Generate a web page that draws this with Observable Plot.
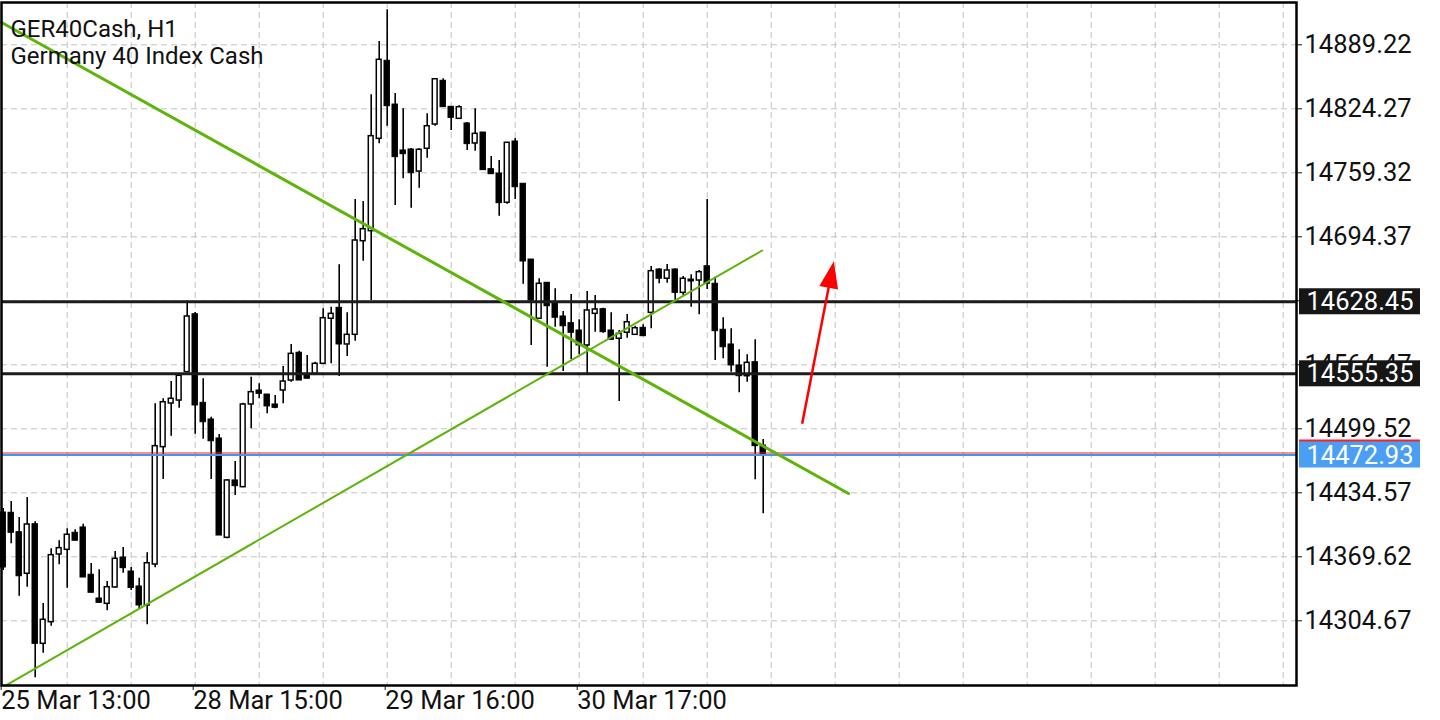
<!DOCTYPE html>
<html><head><meta charset="utf-8">
<script src="https://cdn.jsdelivr.net/npm/d3@7"></script>
<script src="https://cdn.jsdelivr.net/npm/@observablehq/plot@0.6"></script>
<style>
html,body{margin:0;padding:0;background:#fff;}
svg{display:block;}
</style></head><body><div id="chart"></div>
<script>
// H1 bars, index 0 = 25 Mar 13:00
const opens = [14414.6,14414.3,14394.6,14352.4,14402.7,14281.3,14303.3,14372.0,14376.7,14394.0,
14399.4,14351.4,14327.3,14321.9,14338.5,14368.9,14354.7,14339.5,14320.2,14361.8,
14480.9,14525.2,14528.2,14557.0,14615.8,14525.9,14509.0,14489.7,14388.9,14447.1,
14440.3,14524.2,14538.4,14534.3,14524.2,14538.4,14548.5,14576.7,14553.6,14555.3,
14565.5,14611.2,14622.3,14585.1,14594.9,14689.9,14700.1,14793.8,14873.0,14828.6,
14782.0,14783.0,14760.6,14783.7,14808.3,14852.7,14826.3,14814.1,14809.4,14789.1,
14800.2,14763.0,14758.6,14728.9,14791.1,14748.2,14671.3,14611.2,14647.7,14627.0,
14613.5,14606.7,14599.3,14584.1,14616.2,14620.9,14599.3,14590.9,14597.0,14594.9,
14602.0,14617.2,14661.2,14651.8,14661.2,14637.5,14651.0,14650.0,14664.5,14646.7,
14600.0,14585.1,14563.8,14552.9,14567.1,14482.6];
const highs = [14418.6,14425.7,14409.5,14429.8,14405.1,14322.2,14377.7,14385.9,14398.0,14397.0,
14402.7,14362.8,14356.4,14344.6,14375.0,14379.1,14358.8,14347.9,14373.7,14524.9,
14530.0,14547.5,14555.3,14629.0,14617.6,14550.3,14511.3,14493.7,14448.1,14466.3,
14525.5,14551.9,14545.2,14534.3,14533.3,14562.8,14585.1,14578.3,14573.9,14567.1,
14621.3,14622.9,14666.0,14617.2,14732.2,14730.2,14838.5,14892.6,14924.7,14839.8,
14824.3,14784.0,14783.7,14819.2,14854.3,14854.7,14826.3,14827.3,14810.4,14824.3,
14800.2,14775.9,14771.8,14789.8,14794.1,14748.2,14671.3,14651.8,14647.7,14641.6,
14618.6,14635.8,14610.1,14638.9,14634.8,14621.9,14617.2,14599.3,14615.5,14603.6,
14605.1,14664.2,14661.9,14666.3,14661.9,14654.1,14655.8,14660.2,14732.2,14653.4,
14612.2,14601.0,14579.7,14574.6,14589.8,14488.7];
const lows = [14355.7,14382.8,14329.6,14338.8,14246.8,14271.8,14299.2,14361.5,14337.8,14385.9,
14348.6,14333.1,14322.9,14314.8,14337.8,14353.0,14335.4,14316.9,14300.6,14358.5,
14448.1,14492.0,14520.4,14557.0,14494.0,14489.0,14448.1,14391.2,14387.9,14431.8,
14439.7,14499.5,14530.0,14514.7,14519.8,14524.9,14546.8,14548.5,14550.3,14553.6,
14565.5,14565.5,14552.6,14572.9,14588.4,14669.6,14629.7,14788.8,14806.6,14726.1,
14753.2,14723.4,14743.7,14774.1,14806.6,14825.9,14802.3,14814.1,14782.0,14781.2,
14762.0,14757.9,14715.3,14727.5,14732.2,14646.3,14584.1,14611.2,14562.0,14602.6,
14557.7,14569.9,14574.6,14554.3,14597.6,14596.5,14589.8,14527.2,14591.5,14594.9,
14593.5,14601.0,14646.7,14647.3,14629.7,14634.8,14622.9,14615.2,14640.9,14568.8,
14570.6,14557.0,14536.1,14546.8,14447.8,14413.3];
const closes = [14358.8,14394.0,14349.9,14402.4,14281.3,14305.7,14371.3,14378.4,14392.0,14385.9,
14348.6,14333.1,14322.9,14338.8,14367.6,14358.1,14338.0,14320.2,14363.1,14481.9,
14526.5,14530.0,14553.3,14613.5,14523.2,14506.2,14486.9,14391.2,14447.1,14441.3,
14524.2,14536.7,14535.0,14522.2,14520.8,14547.5,14575.6,14548.5,14550.3,14565.5,
14611.8,14616.2,14585.1,14594.9,14690.6,14702.1,14796.5,14874.0,14826.9,14775.2,
14778.2,14758.9,14782.7,14806.6,14854.3,14825.9,14815.1,14825.9,14788.4,14798.9,
14762.0,14757.9,14728.5,14789.8,14744.7,14669.3,14629.7,14646.7,14623.9,14612.2,
14603.6,14597.0,14584.1,14619.6,14620.6,14597.6,14589.8,14595.9,14607.7,14601.6,
14593.5,14659.5,14651.8,14660.2,14637.5,14651.8,14649.0,14658.5,14646.7,14598.6,
14582.3,14563.8,14552.9,14566.5,14481.9,14472.93];

const xTickIndex = [0, 24, 48, 72];
const xTickLabels = ["25 Mar 13:00", "28 Mar 15:00", "29 Mar 16:00", "30 Mar 17:00"];
const yTickValues = [14304.67, 14369.62, 14434.57, 14499.52, 14564.47, 14629.42, 14694.37, 14759.32, 14824.27, 14889.22];
const levelValues = [14628.45, 14555.35];
const bidPrice = 14472.93;
const askPrice = 14474.96;
// trend lines: [bar index, price] endpoints
const trendDown = [[-0.2, 14911.8], [105.66, 14433.86]];
const trendUp = [[0.29, 14239.0], [94.875, 14680.47]];
// red arrow: tail, neck and tip
const arrowTail = [99.87, 14504.6];
const arrowNeck = [103.46, 14654.7];
const arrowTip = [103.83, 14669.6];
const titleLines = ["GER40Cash, H1", "Germany 40 Index Cash"];

const candles = opens.map((o, i) => ({i, o, h: highs[i], l: lows[i], c: closes[i]}));
const up = candles.filter(d => d.c >= d.o);
const down = candles.filter(d => d.c < d.o);
const gridIndex = d3.range(8, 161, 8);
const green = "#5fb40c";
const gridStyle = {stroke: "#c2c2c2", strokeWidth: 1, strokeDasharray: "6,4"};
const axisFont = 25.5;

const headSymbol = {draw(ctx) { ctx.moveTo(0, 0); ctx.lineTo(-9.5, 27); ctx.lineTo(9.5, 27); ctx.closePath(); }};

const chart = Plot.plot({
  width: 1440, height: 720,
  marginLeft: 1, marginRight: 144, marginTop: 2, marginBottom: 35,
  style: {fontFamily: "Roboto, sans-serif", fontSize: "24px", color: "#111", background: "#fff"},
  x: {type: "linear", domain: [-0.2125, 161.6625], axis: null},
  y: {domain: [14239.01, 14932.15], axis: null, label: null},
  marks: [
    Plot.ruleY(yTickValues, gridStyle),
    Plot.ruleX(gridIndex, gridStyle),
    Plot.ruleX(candles, {x: "i", y1: "l", y2: "h", stroke: "#000", strokeWidth: 1.6}),
    Plot.rect(down, {x1: d => d.i - 0.5, x2: d => d.i + 0.5, y1: "o", y2: "c", insetLeft: 1.3, insetRight: 1.3, fill: "#000", stroke: "#000", strokeWidth: 1}),
    Plot.rect(up, {x1: d => d.i - 0.5, x2: d => d.i + 0.5, y1: "o", y2: "c", insetLeft: 1.6, insetRight: 1.6, fill: "#fff", stroke: "#000", strokeWidth: 1.5}),
    Plot.ruleY(levelValues, {stroke: "#1c1c1c", strokeWidth: 3}),
    Plot.ruleY([askPrice], {stroke: "#ff2020", strokeWidth: 1}),
    Plot.ruleY([bidPrice], {stroke: "#3f97f2", strokeWidth: 2}),
    Plot.line(trendDown, {x: d => d[0], y: d => d[1], stroke: green, strokeWidth: 3}),
    Plot.line(trendUp, {x: d => d[0], y: d => d[1], stroke: green, strokeWidth: 2}),
    Plot.link([0], {x1: () => arrowTail[0], y1: () => arrowTail[1], x2: () => arrowNeck[0], y2: () => arrowNeck[1], stroke: "#ff0000", strokeWidth: 2.5}),
    Plot.dot([arrowTip], {x: d => d[0], y: d => d[1], symbol: headSymbol, rotate: 11, fill: "#ff0000", stroke: "none", r: 10}),
    Plot.text([titleLines[0]], {frameAnchor: "top-left", lineAnchor: "top", dx: 9, dy: 17, fill: "#111", fontSize: 24}),
    Plot.text([titleLines[1]], {frameAnchor: "top-left", lineAnchor: "top", dx: 9, dy: 44, fill: "#111", fontSize: 24}),
    Plot.frame({stroke: "#000", strokeWidth: 2.5}),
    Plot.axisY(yTickValues, {anchor: "right", tickFormat: d => d.toFixed(2), tickSize: 5, tickPadding: 3, label: null, fontSize: axisFont}),
    Plot.axisX(xTickIndex, {anchor: "bottom", tickFormat: d => xTickLabels[xTickIndex.indexOf(d)], textAnchor: "start", dx: -2, tickSize: 5, tickPadding: 0, label: null, fontSize: axisFont})
  ]
});

document.getElementById("chart").appendChild(chart);

// price labels on the right scale
const ys = chart.scale("y");
const svg = d3.select(chart);
const boxes = [
  {v: levelValues[0], fill: "#161616", text: levelValues[0].toFixed(2)},
  {v: levelValues[1], fill: "#161616", text: levelValues[1].toFixed(2)},
  {v: askPrice, fill: "#ff2020", text: ""},
  {v: bidPrice, fill: "#4a9ff5", text: bidPrice.toFixed(2)}
];
const g = svg.append("g");
for (const b of boxes) {
  const cy = ys.apply(b.v);
  g.append("rect").attr("x", 1299).attr("y", cy - 13).attr("width", 121).attr("height", 26).attr("fill", b.fill);
  if (b.text) g.append("text").attr("x", 1360).attr("y", cy).attr("text-anchor", "middle")
    .attr("dominant-baseline", "central").attr("fill", "#fff").attr("font-size", axisFont)
    .attr("font-family", "Roboto, sans-serif").text(b.text);
}
</script></body></html>
